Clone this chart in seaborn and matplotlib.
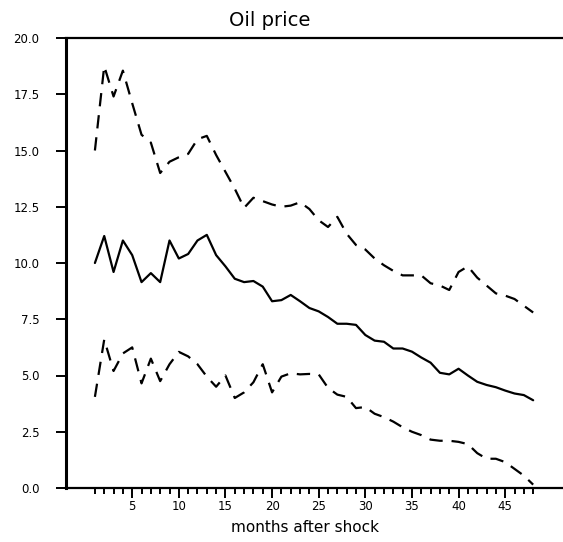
import numpy as np
import pandas as pd
import matplotlib
matplotlib.use("Agg")
import matplotlib.pyplot as plt
import seaborn as sns

months = list(range(1, 49))
center = [10.0, 11.2, 9.6, 11.0, 10.35, 9.15, 9.55, 9.15, 11.0, 10.2,
          10.4, 11.0, 11.25, 10.35, 9.85, 9.3, 9.15, 9.2, 8.95, 8.3,
          8.35, 8.58, 8.3, 8.0, 7.85, 7.6, 7.3, 7.3, 7.25, 6.8,
          6.55, 6.5, 6.2, 6.2, 6.06, 5.8, 5.57, 5.12, 5.05, 5.3,
          5.0, 4.72, 4.58, 4.48, 4.33, 4.2, 4.13, 3.9]
upper = [15.0, 18.75, 17.4, 18.55, 17.1, 15.7, 15.35, 14.0, 14.5, 14.7,
         14.85, 15.5, 15.65, 14.8, 14.05, 13.3, 12.45, 12.9, 12.75, 12.6,
         12.5, 12.55, 12.7, 12.4, 11.9, 11.6, 12.05, 11.3, 10.8, 10.6,
         10.2, 9.9, 9.65, 9.45, 9.45, 9.45, 9.1, 9.0, 8.8, 9.6,
         9.85, 9.35, 9.0, 8.65, 8.55, 8.4, 8.1, 7.8]
lower = [4.05, 6.6, 5.2, 5.98, 6.25, 4.65, 5.75, 4.75, 5.5, 6.05,
         5.85, 5.5, 4.95, 4.5, 5.0, 4.0, 4.25, 4.7, 5.5, 4.25,
         4.95, 5.1, 5.05, 5.07, 5.05, 4.45, 4.15, 4.05, 3.55, 3.6,
         3.3, 3.15, 2.95, 2.7, 2.5, 2.35, 2.15, 2.1, 2.1, 2.05,
         1.95, 1.55, 1.3, 1.3, 1.15, 0.85, 0.55, 0.15]

title = "Oil price"
xlabel = "months after shock"
yticks = [0.0, 2.5, 5.0, 7.5, 10.0, 12.5, 15.0, 17.5, 20.0]
xmajor = [5, 10, 15, 20, 25, 30, 35, 40, 45]

df = pd.DataFrame({
    "month": months * 3,
    "value": center + upper + lower,
    "series": ["center"] * 48 + ["upper"] * 48 + ["lower"] * 48,
})

sns.set_style("ticks")
plt.rcParams["text.color"] = "black"
plt.rcParams["xtick.color"] = "black"
plt.rcParams["ytick.color"] = "black"
plt.rcParams["axes.labelcolor"] = "black"

W, H = 563, 542
fig = plt.figure(figsize=(W / 100, H / 100), dpi=100)
ax = fig.add_axes([66 / W, 54 / H, (W - 66) / W, (488 - 38) / H])

sns.lineplot(data=df, x="month", y="value", hue="series", style="series",
             palette={"center": "black", "upper": "black", "lower": "black"},
             dashes={"center": "", "upper": (6, 4), "lower": (6, 4)},
             linewidth=1.6, legend=False, ax=ax)

ax.set_xlim(-2.1, 51.2)
ax.set_ylim(0, 20)
ax.set_yticks(yticks)
ax.set_yticklabels([f"{v:.1f}" for v in yticks])
ax.set_xticks(xmajor)
ax.set_xticklabels([str(v) for v in xmajor])
ax.set_xticks(months, minor=True)

ax.tick_params(axis="y", direction="out", length=7, width=1.4, pad=12,
               labelsize=8.5, colors="black")
ax.tick_params(axis="x", which="major", direction="out", length=7, width=1.4,
               pad=2, labelsize=8.5, colors="black")
ax.tick_params(axis="x", which="minor", direction="out", length=4, width=1.4,
               colors="black")

for s in ["left", "top", "bottom"]:
    ax.spines[s].set_visible(True)
    ax.spines[s].set_color("black")
ax.spines["left"].set_linewidth(2.2)
ax.spines["top"].set_linewidth(1.6)
ax.spines["bottom"].set_linewidth(1.6)
ax.spines["right"].set_visible(False)

ax.set_xlabel("")
ax.set_ylabel("")
fig.text(270 / W, 1 - 20 / H, title, ha="center", va="center", fontsize=14,
         color="black")
fig.text(305 / W, 1 - 527 / H, xlabel, ha="center", va="center", fontsize=11,
         color="black")

fig.savefig("out.png", dpi=100)
